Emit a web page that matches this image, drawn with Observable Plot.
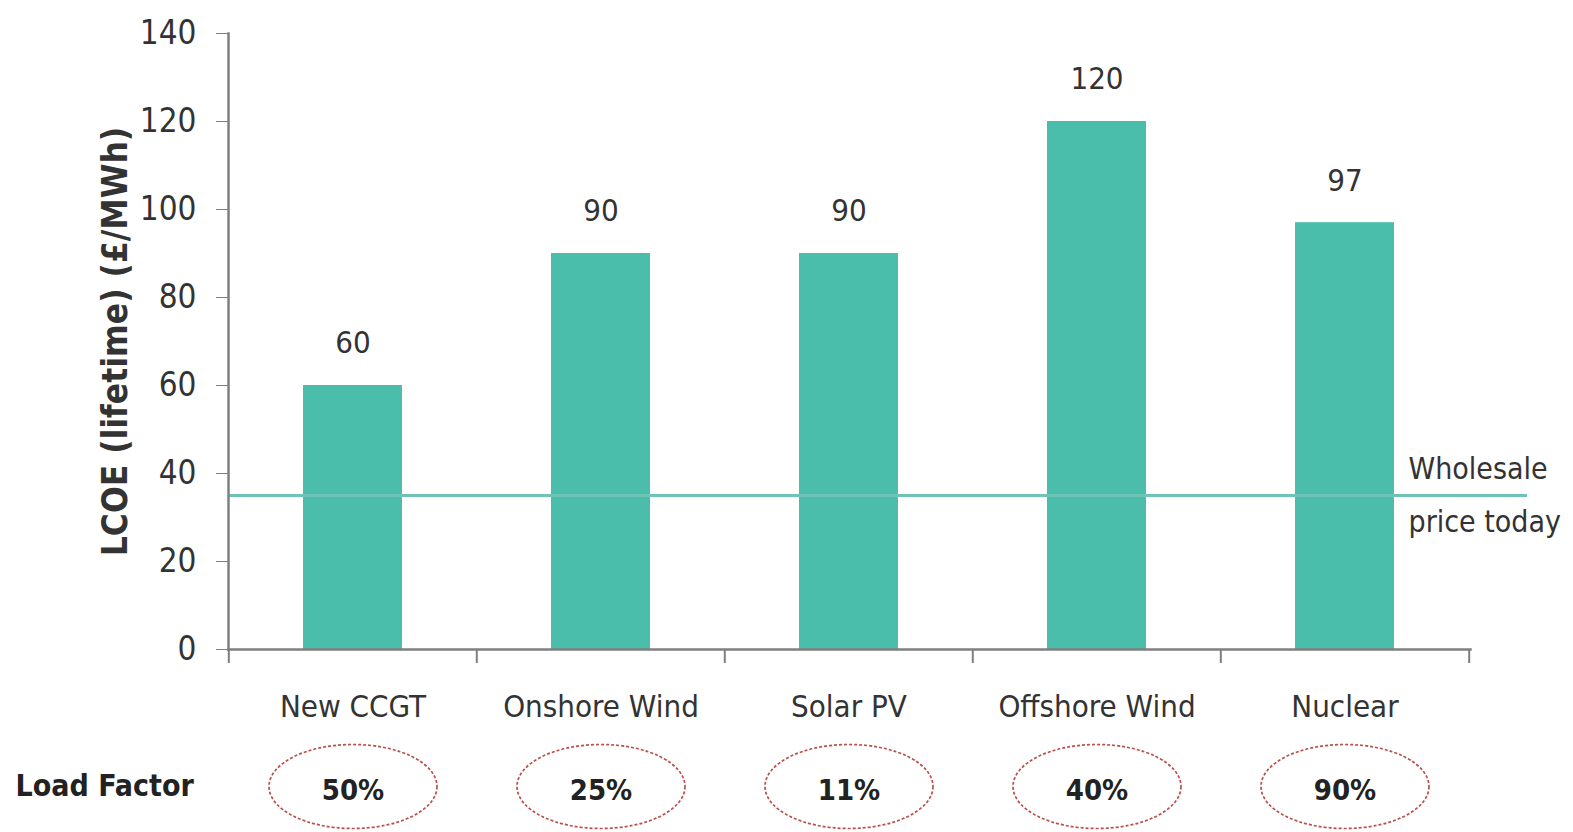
<!DOCTYPE html>
<html>
<head>
<meta charset="utf-8">
<script src="https://cdn.jsdelivr.net/npm/d3@7"></script>
<script src="https://cdn.jsdelivr.net/npm/@observablehq/plot@0.6"></script>
<style>
  body { margin: 0; background: #fff; }
</style>
</head>
<body>
<div id="chart"></div>
<script>
const categories = ["New CCGT", "Onshore Wind", "Solar PV", "Offshore Wind", "Nuclear"];
const lcoe = [60, 90, 90, 120, 97];
const loadFactor = ["50%", "25%", "11%", "40%", "90%"];
const wholesalePrice = 35;
const yTicks = [0, 20, 40, 60, 80, 100, 120, 140];

const data = categories.map((c, i) => ({category: c, value: lcoe[i], lf: loadFactor[i]}));

const W = 1573, H = 832, mL = 228, mR = 103, mT = 33, mB = 183;
const step = (W - mL - mR) / categories.length;

const ellipse = {
  draw(ctx) {
    const rx = 84, ry = 42, k = 0.5523;
    ctx.moveTo(rx, 0);
    ctx.bezierCurveTo(rx, ry * k, rx * k, ry, 0, ry);
    ctx.bezierCurveTo(-rx * k, ry, -rx, ry * k, -rx, 0);
    ctx.bezierCurveTo(-rx, -ry * k, -rx * k, -ry, 0, -ry);
    ctx.bezierCurveTo(rx * k, -ry, rx, -ry * k, rx, 0);
    ctx.closePath();
  }
};

const font = '"DejaVu Sans Condensed", "Liberation Sans Narrow", "Roboto", sans-serif';
const axisColor = "#7f7f7f";
const textColor = "#333";

const chart = Plot.plot({
  width: W, height: H,
  marginLeft: mL, marginRight: mR, marginTop: mT, marginBottom: mB,
  style: {fontFamily: font, color: textColor, background: "#fff"},
  x: {domain: categories, paddingInner: 0.6, paddingOuter: 0.3},
  y: {domain: [0, 140]},
  marks: [
    Plot.barY(data, {x: "category", y: "value", fill: "#4bbdab"}),
    Plot.ruleY([wholesalePrice], {stroke: "#6cc3b6", strokeWidth: 3, insetRight: -57}),
    Plot.frame({anchor: "left", stroke: axisColor, strokeWidth: 2.5}),
    Plot.frame({anchor: "bottom", stroke: axisColor, strokeWidth: 2.5}),
    Plot.ruleX(categories, {x: d => d, dx: -step / 2, y1: 0, y2: 0, insetBottom: -14, stroke: axisColor, strokeWidth: 2}),
    Plot.ruleX(categories.slice(-1), {x: d => d, dx: step / 2, y1: 0, y2: 0, insetBottom: -14, stroke: axisColor, strokeWidth: 2}),
    Plot.axisY({ticks: yTicks, tickSize: 12, tickPadding: 20, fontSize: 33, stroke: axisColor,
      label: "LCOE (lifetime) (£/MWh)", labelAnchor: "center", labelArrow: "none", labelOffset: 126}),
    Plot.axisX({tickSize: 0, tickPadding: 45, fontSize: 31, label: null}),
    Plot.text(data, {x: "category", y: "value", text: d => String(d.value), dy: -42, fontSize: 31, fill: textColor}),
    Plot.text(["Wholesale\nprice today"], {frameAnchor: "right", y: wholesalePrice, dx: -62, dy: -7, textAnchor: "start", fontSize: 30, lineHeight: 1.75, fill: textColor}),
    Plot.dot(data, {x: "category", frameAnchor: "bottom", dy: 137, symbol: ellipse, fill: "none", stroke: "#b8504b", strokeWidth: 1.7, strokeDasharray: "3,2"}),
    Plot.text(data, {x: "category", frameAnchor: "bottom", dy: 150, text: "lf", fontSize: 29, fontWeight: "bold", fill: "#222"}),
    Plot.text(["Load Factor"], {frameAnchor: "bottom-left", dx: -213, dy: 146, textAnchor: "start", fontSize: 30, fontWeight: "bold", fill: "#222"})
  ]
});

document.getElementById("chart").appendChild(chart);
chart.querySelectorAll("g[aria-label='y-axis label'] text").forEach(t => { t.setAttribute("font-weight", "bold"); t.setAttribute("font-size", 35); });
</script>
</body>
</html>
